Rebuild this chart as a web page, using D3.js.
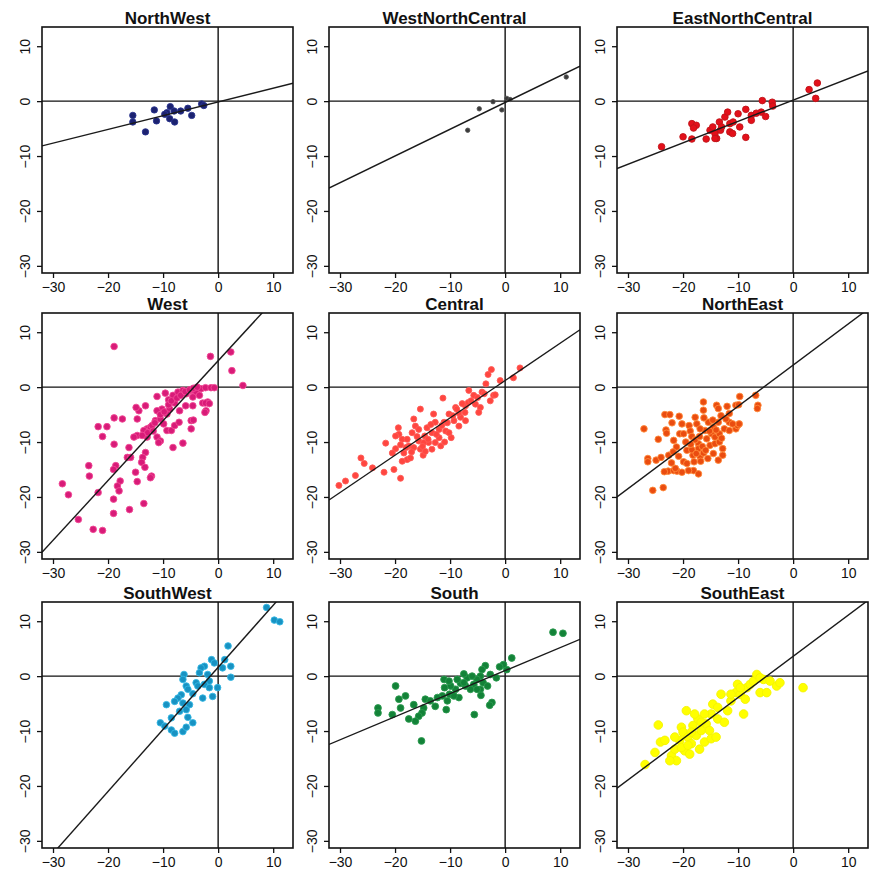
<!DOCTYPE html>
<html>
<head>
<meta charset="utf-8">
<script src="https://cdn.jsdelivr.net/npm/d3@7"></script>
<style>
  body { margin: 0; background: #fff; }
  svg { display: block; }
  .panel-title { font-family: 'Liberation Sans', Arial, sans-serif; font-weight: bold; font-size: 17px; fill: #111; }
  .tick text { font-family: 'Liberation Sans', Arial, sans-serif; font-size: 14px; fill: #111; }
  .tick line { stroke: #111; stroke-width: 1.3; }
</style>
</head>
<body>
<svg id="chart" width="875" height="878"></svg>
<script>
// regions, in the order of the panels
const regions = ['NorthWest', 'WestNorthCentral', 'EastNorthCentral', 'West', 'Central', 'NorthEast', 'SouthWest', 'South', 'SouthEast']
const tickValues = [-30, -20, -10, 0, 10]

// fitted lines: y = intercept + slope * x
const fitIntercept = [-0.15, -0.25, 0.2, 4.8, 1.2, 4.0, 1.6, 1.0, 3.6]
const fitSlope = [0.25, 0.487, 0.39, 1.09, 0.68, 0.75, 1.13, 0.42, 0.75]

const northWest = [[-15.5, -2.6], [-15.5, -3.8], [-11.6, -1.6], [-11.2, -3.6], [-13.2, -5.6], [-9.3, -2.1], [-8.7, -1.0], [-8.8, -3.2],
  [-8.0, -1.8], [-7.9, -3.8], [-6.8, -1.8], [-5.5, -1.3], [-4.8, -2.6], [-3.0, -0.5], [-2.6, -0.8], [-9.7, -2.4]]

const westNorthCentral = [[-6.8, -5.3], [-4.7, -1.4], [-2.2, -0.1], [-0.6, -1.6], [0.3, 0.5], [0.9, 0.3], [11.1, 4.4]]

const eastNorthCentral = [[-23.9, -8.3], [-20.0, -6.5], [-18.4, -6.9], [-18.4, -4.1], [-17.6, -4.4], [-18.1, -4.9], [-15.8, -6.9],
  [-15.1, -5.3], [-14.6, -4.7], [-14.2, -5.9], [-13.9, -6.8], [-13.4, -3.8], [-13.2, -5.3], [-12.4, -2.9], [-11.9, -2.0],
  [-11.5, -4.1], [-11.5, -5.6], [-11.0, -5.9], [-10.0, -2.3], [-9.7, -4.7], [-8.6, -1.5], [-8.6, -6.6], [-7.6, -2.6],
  [-7.6, -3.5], [-6.7, -2.2], [-5.8, -2.0], [-5.6, 0.1], [-5.0, -2.8], [-3.8, -0.2], [-3.7, -0.9], [2.9, 2.1], [4.4, 3.3],
  [4.1, 0.5], [-14.2, -6.8], [-13.0, -4.7], [-10.9, -3.8]]

const west = [[-11.1, -1.7], [-9.6, -1.1], [-9.0, -2.3], [-8.2, -1.5], [-7.3, -0.9], [-6.4, -0.6], [-5.8, -1.2], [-4.9, -0.6],
  [-4.0, -0.9], [-3.1, -0.3], [-2.3, -0.1], [-1.3, -0.1], [-2.8, -2.9], [-1.9, -2.7], [-2.2, -4.3], [-4.6, -3.4], [-5.9, -3.4],
  [-7.0, -4.3], [-7.9, -2.9], [-8.8, -4.0], [-9.3, -4.9], [-10.2, -4.0], [-11.1, -4.3], [-11.4, -6.1], [-10.5, -5.8],
  [-9.9, -6.7], [-9.3, -7.9], [-8.5, -7.9], [-7.9, -7.0], [-7.1, -6.4], [-4.9, -6.1], [-4.5, -6.0], [-4.9, -7.6], [-13.2, -3.4],
  [-14.4, -4.3], [-14.7, -5.8], [-12.9, -7.6], [-13.5, -7.9], [-12.3, -7.3], [-14.7, -8.8], [-15.3, -9.1], [-12.9, -9.1],
  [-11.1, -9.1], [-10.5, -9.8], [-10.8, -10.1], [-8.2, -11.0], [-6.4, -10.2], [-16.2, -11.0], [-16.5, -12.8], [-18.9, -10.4],
  [-21.8, -7.2], [-20.2, -7.2], [-21.0, -9.0], [-18.9, -5.6], [-17.4, -5.8], [-14.9, -3.7], [-13.2, -11.9], [-13.7, -12.8],
  [-13.9, -13.7], [-13.3, -14.6], [-12.1, -16.2], [-12.3, -16.5], [-15.9, -12.8], [-15.0, -15.5], [-18.6, -14.3],
  [-19.0, -15.0], [-17.8, -17.1], [-18.3, -18.0], [-18.0, -18.9], [-23.5, -14.3], [-23.4, -16.2], [-28.3, -17.6],
  [-27.2, -19.6], [-21.8, -19.2], [-19.0, -20.4], [-16.1, -22.3], [-13.5, -21.2], [-19.0, -23.0], [-25.4, -24.1],
  [-14.7, -17.2], [-4.6, -1.8], [-3.4, -1.5], [-2.3, -2.9], [-22.7, -25.9], [-21.0, -26.1], [-18.9, 7.4], [-1.4, 5.6],
  [2.3, 6.4], [2.5, 3.0], [4.5, 0.3], [-0.7, -0.1], [-12.0, -7.0], [-11.5, -6.5], [-10.5, -5.0], [-9.8, -4.5], [-9.0, -3.2],
  [-8.5, -2.5], [-7.5, -2.0], [-6.8, -1.5], [-6.0, -0.8], [-5.2, -0.5], [-4.5, -0.2], [-3.8, 0.0], [-12.8, -8.3],
  [-13.8, -8.8], [-11.8, -8.0], [-2.4, -4.6], [-1.6, -3.0]]

const central = [[-30.2, -17.9], [-29.0, -17.1], [-27.2, -16.1], [-26.2, -12.9], [-25.6, -13.9], [-24.1, -14.7], [-22.0, -15.5],
  [-21.7, -10.2], [-20.2, -15.0], [-19.0, -16.6], [-19.9, -11.2], [-19.4, -7.4], [-19.3, -8.6], [-18.7, -9.5], [-18.4, -12.0],
  [-17.8, -13.2], [-18.7, -13.5], [-17.5, -10.7], [-16.9, -8.3], [-16.6, -5.8], [-16.3, -7.1], [-15.7, -9.8], [-15.4, -11.3],
  [-14.9, -12.4], [-14.6, -8.9], [-14.2, -7.4], [-15.4, -4.0], [-13.9, -10.1], [-13.3, -8.3], [-13.0, -4.9], [-12.7, -6.4],
  [-12.0, -9.2], [-11.3, -2.0], [-11.1, -6.4], [-10.8, -8.0], [-10.2, -4.9], [-9.8, -9.2], [-9.3, -6.1], [-9.0, -3.7],
  [-8.4, -7.1], [-8.1, -5.5], [-7.3, -4.6], [-7.2, -3.4], [-6.7, -2.8], [-6.6, -0.6], [-5.7, -1.5], [-5.4, -3.1], [-4.5, -3.7],
  [-4.2, -0.9], [-3.5, 0.6], [-3.1, 2.3], [-2.5, 3.2], [-2.7, -2.5], [-2.1, -1.5], [-1.8, -1.4], [-0.9, 1.2], [1.5, 1.7],
  [2.7, 3.5], [-11.7, -10.7], [-17.2, -12.9], [-19.9, -8.9], [-14.8, -10.1], [-13.3, -11.3], [-10.2, -8.3], [-12.0, -7.7],
  [-8.4, -4.7], [-7.2, -6.1], [-4.8, -4.6], [-15.7, -7.7], [-17.8, -9.5], [-16.6, -11.0], [-14.5, -11.7], [-12.7, -10.1],
  [-18.0, -11.0], [-16.0, -9.0], [-14.0, -9.5], [-13.5, -6.8], [-11.5, -7.0], [-10.5, -6.5], [-9.5, -5.2], [-8.8, -4.0],
  [-7.8, -3.0], [-6.2, -2.5], [-5.0, -1.9], [-3.8, -1.2], [-20.5, -12.0], [-19.0, -10.5], [-17.0, -11.8], [-15.0, -10.8],
  [-12.5, -8.6], [-11.0, -10.0]]

const northEast = [[-27.1, -7.6], [-25.5, -18.8], [-23.6, -18.3], [-26.4, -13.0], [-26.4, -13.6], [-24.9, -13.3], [-24.5, -9.5],
  [-23.3, -5.0], [-22.4, -5.0], [-23.1, -7.8], [-23.0, -8.4], [-22.6, -12.4], [-22.7, -15.3], [-21.7, -15.2], [-21.1, -15.3],
  [-22.1, -13.8], [-21.7, -9.7], [-21.2, -10.9], [-20.7, -5.3], [-20.2, -6.7], [-20.6, -8.5], [-20.2, -15.5], [-19.9, -13.6],
  [-19.3, -11.5], [-18.9, -7.0], [-18.7, -8.0], [-18.4, -9.0], [-19.3, -13.9], [-18.2, -12.4], [-18.0, -13.6], [-17.8, -5.5],
  [-17.5, -6.7], [-17.2, -10.3], [-17.2, -11.2], [-16.9, -12.7], [-16.8, -13.5], [-16.3, -2.7], [-16.3, -4.2], [-16.0, -7.9],
  [-15.7, -9.4], [-15.4, -6.4], [-15.1, -10.6], [-14.8, -8.5], [-14.5, -7.3], [-14.2, -9.1], [-14.2, -10.3], [-13.9, -3.3],
  [-13.6, -3.9], [-13.6, -6.4], [-13.4, -8.5], [-13.4, -10.0], [-13.1, -5.2], [-12.8, -11.2], [-12.8, -12.4], [-12.5, -7.6],
  [-11.6, -6.4], [-11.6, -4.8], [-10.4, -3.3], [-10.4, -7.6], [-10.1, -7.0], [-9.8, -6.7], [-9.7, -1.7], [-11.0, -6.7],
  [-6.8, -1.5], [-6.4, -3.3], [-6.5, -3.9], [-13.6, -13.3], [-14.5, -12.1], [-18.1, -15.2], [-19.0, -15.2], [-17.2, -15.8],
  [-19.9, -8.5], [-21.4, -14.8], [-18.4, -11.4], [-16.3, -12.0], [-23.4, -15.4], [-9.9, -3.2], [-11.6, -7.9],
  [-17.8, -9.6], [-17.0, -9.0], [-16.5, -10.8], [-15.9, -11.5], [-15.2, -8.0], [-14.6, -6.0], [-14.0, -7.8], [-16.9, -7.6],
  [-18.6, -10.4], [-17.6, -12.1], [-15.5, -13.0], [-13.0, -9.3], [-12.2, -5.8], [-19.5, -10.0], [-16.2, -5.6], [-20.8, -12.6],
  [-21.8, -11.8], [-24.0, -12.8], [-22.0, -6.5], [-12.0, -3.5]]

const southWest = [[8.8, 12.5], [10.2, 10.2], [11.2, 9.9], [1.8, 5.5], [2.3, 1.8], [2.3, -0.2], [1.2, 3.0], [0.8, 1.5], [-1.2, 3.0],
  [-0.7, 2.4], [-2.5, 1.8], [-3.1, 1.5], [-3.4, 0.6], [-1.9, 0.3], [-1.6, -0.9], [-2.5, -1.5], [-4.0, -1.2], [-6.2, 0.3],
  [-6.4, -0.6], [-5.8, -1.8], [-1.0, -3.7], [-2.8, -4.0], [-4.6, -3.2], [-6.7, -3.4], [-7.3, -4.0], [-7.9, -4.6], [-6.4, -4.9],
  [-5.2, -5.2], [-5.8, -6.1], [-9.4, -5.2], [-7.0, -6.4], [-8.5, -7.6], [-5.5, -7.5], [-10.5, -8.5], [-9.7, -9.1], [-8.5, -9.8],
  [-7.9, -10.4], [-6.4, -10.1], [-5.8, -9.3], [-4.6, -8.5], [-3.7, -1.8], [-5.5, -2.4], [-0.1, -2.1], [-1.6, -2.1]]

const south = [[8.7, 8.0], [10.5, 7.8], [1.2, 3.3], [0.3, 1.2], [-0.3, 2.1], [-1.0, 1.7], [-1.6, -0.3], [-2.4, -4.8], [-2.8, -5.3],
  [-3.6, 1.9], [-4.2, 1.2], [-4.5, 0.0], [-4.0, -1.2], [-4.5, -2.4], [-4.4, -3.5], [-5.1, -0.6], [-5.7, -1.5], [-5.6, -7.0],
  [-6.3, -2.4], [-6.9, -0.3], [-7.5, 0.4], [-7.2, -1.8], [-8.1, -1.3], [-8.4, -3.9], [-9.0, -2.4], [-9.9, -1.8], [-10.1, -3.3],
  [-10.5, -4.5], [-10.7, -6.1], [-11.1, -0.6], [-11.0, -2.1], [-11.4, -3.6], [-12.7, -5.5], [-12.3, -3.9], [-14.5, -4.2],
  [-14.8, -5.8], [-15.1, -6.7], [-15.2, -11.8], [-15.7, -7.3], [-16.3, -8.2], [-16.6, -5.2], [-17.5, -7.8], [-19.0, -5.8],
  [-18.1, -3.6], [-19.3, -4.2], [-19.9, -1.8], [-20.5, -7.0], [-23.1, -5.8], [-23.1, -6.7], [-7.5, -1.2], [-6.0, 0.0],
  [-8.7, -0.6], [-5.1, -2.4], [-9.3, -3.6], [-13.6, -4.5], [-10.2, -0.9], [-2.7, 0.3], [-3.2, -1.8]]

const southEast = [[-26.9, -16.1], [-25.1, -13.9], [-24.1, -12.0], [-24.5, -8.9], [-22.1, -14.5], [-21.5, -13.3], [-21.2, -15.4],
  [-20.6, -11.7], [-20.3, -9.3], [-20.0, -10.2], [-19.7, -13.6], [-19.4, -6.3], [-19.1, -11.1], [-18.8, -14.2], [-18.5, -12.3],
  [-18.2, -9.0], [-17.6, -10.8], [-17.3, -7.8], [-17.0, -13.3], [-16.7, -9.9], [-16.1, -12.0], [-15.8, -8.7], [-15.2, -9.9],
  [-14.9, -6.9], [-14.9, -11.4], [-14.6, -5.1], [-13.7, -7.8], [-13.1, -3.3], [-12.5, -8.4], [-11.9, -6.3], [-11.3, -4.5],
  [-10.4, -3.0], [-10.1, -1.5], [-9.6, -3.3], [-9.0, -6.9], [-8.7, -4.2], [-8.4, -2.1], [-7.8, -1.5], [-7.2, -0.9], [-6.6, 0.3],
  [-6.0, -3.0], [-5.4, -0.6], [-4.8, -3.0], [-4.2, -0.9], [-3.0, -1.8], [-2.4, -1.2], [1.8, -2.1], [-23.3, -11.7], [-17.9, -6.9],
  [-16.1, -6.9], [-14.0, -11.1], [-20.3, -13.0], [-22.4, -15.4], [-11.3, -3.3], [-13.7, -5.7], [-16.7, -8.4], [-18.5, -10.2],
  [-19.1, -12.6], [-21.5, -11.1], [-9.6, -2.1], [-6.0, -0.3]]

const regionPoints = [northWest, westNorthCentral, eastNorthCentral, west, central, northEast, southWest, south, southEast]

// point styles per panel
const pointStyles = [
  { fill: '#1c2270', stroke: '#2a3590', r: 3.2 },
  { fill: '#3a3a3a', stroke: '#555', r: 2.2 },
  { fill: '#e3101a', stroke: '#c0141a', r: 3.3 },
  { fill: '#d81b78', stroke: '#f04a95', r: 3.3 },
  { fill: '#ff4640', stroke: '#ff5a55', r: 3.0 },
  { fill: '#ea4c10', stroke: '#ff8a3a', r: 3.3 },
  { fill: '#1892c2', stroke: '#34b8e4', r: 3.3 },
  { fill: '#138238', stroke: '#2a9a4e', r: 3.4 },
  { fill: '#ffff00', stroke: '#f4f400', r: 4.3 }
]

const colLeft = [42, 329, 617]
const rowTop = [27, 313, 602]
const boxW = 251
const boxH = 246

const svg = d3.select('#chart')

const panels = svg
  .selectAll('g.panel')
  .data(regions.map((name, i) => ({
    name,
    i,
    points: regionPoints[i],
    intercept: fitIntercept[i],
    slope: fitSlope[i],
    style: pointStyles[i],
    left: colLeft[i % 3],
    top: rowTop[Math.floor(i / 3)]
  })))
  .enter()
  .append('g')
  .attr('class', 'panel')
  .attr('transform', d => `translate(${d.left},${d.top})`)

panels.each(function (d) {
  renderPanel(d3.select(this), d)
})

function renderPanel (g, d) {
  const x = d3.scaleLinear().domain([-32, 13.6]).range([0, boxW])
  const y = d3.scaleLinear().domain([-31.3, 13.5]).range([boxH, 0])

  g.append('text')
    .attr('class', 'panel-title')
    .attr('x', boxW / 2)
    .attr('y', -3)
    .attr('text-anchor', 'middle')
    .text(d.name)

  // axes
  const xAxis = g.append('g')
    .attr('transform', `translate(0,${boxH})`)
    .call(d3.axisBottom(x).tickValues(tickValues).tickSize(5).tickPadding(4))
  xAxis.select('.domain').remove()

  const yAxis = g.append('g')
    .call(d3.axisLeft(y).tickValues(tickValues).tickSize(5))
  yAxis.select('.domain').remove()
  yAxis.selectAll('text')
    .attr('x', 0)
    .attr('dy', 0)
    .attr('text-anchor', 'middle')
    .attr('transform', 'translate(-12,0) rotate(-90)')

  // plot area
  const clipId = 'plotclip-' + d.i
  g.append('clipPath')
    .attr('id', clipId)
    .append('rect')
    .attr('width', boxW)
    .attr('height', boxH)
  const area = g.append('g').attr('clip-path', `url(#${clipId})`)

  area.append('line')
    .attr('x1', x(0)).attr('x2', x(0))
    .attr('y1', 0).attr('y2', boxH)
    .attr('stroke', '#111').attr('stroke-width', 1.4)

  area.append('line')
    .attr('x1', 0).attr('x2', boxW)
    .attr('y1', y(0)).attr('y2', y(0))
    .attr('stroke', '#111').attr('stroke-width', 1.4)

  area.selectAll('circle')
    .data(d.points)
    .enter()
    .append('circle')
    .attr('cx', p => x(p[0]))
    .attr('cy', p => y(p[1]))
    .attr('r', d.style.r)
    .attr('fill', d.style.fill)
    .attr('stroke', d.style.stroke)
    .attr('stroke-width', 0.9)

  const xs = x.domain()
  area.append('line')
    .attr('x1', x(xs[0])).attr('y1', y(d.intercept + d.slope * xs[0]))
    .attr('x2', x(xs[1])).attr('y2', y(d.intercept + d.slope * xs[1]))
    .attr('stroke', '#1a1a1a').attr('stroke-width', 1.4)

  g.append('rect')
    .attr('width', boxW)
    .attr('height', boxH)
    .attr('fill', 'none')
    .attr('stroke', '#111')
    .attr('stroke-width', 1.6)
}
</script>
</body>
</html>
